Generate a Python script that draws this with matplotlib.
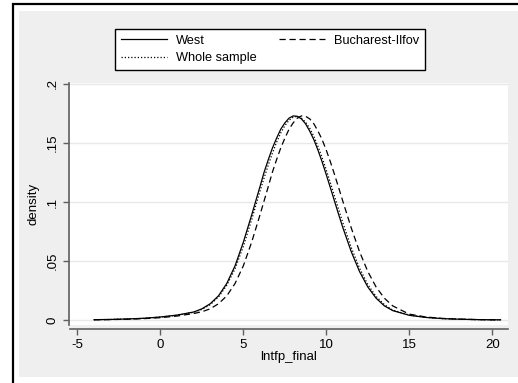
import matplotlib.pyplot as plt
from matplotlib.patches import Rectangle

plt.rcParams['font.family'] = ['Liberation Sans', 'DejaVu Sans']
plt.rcParams['axes.unicode_minus'] = False

x_vals = [-4, -3, -2, -1, 0, 1, 2, 2.5, 3, 3.5, 4, 4.5, 5, 5.5, 6, 6.25, 6.5, 6.75, 7, 7.25,
          7.5, 7.75, 8, 8.25, 8.5, 8.75, 9, 9.25, 9.5, 9.75, 10, 10.25, 10.5, 10.75, 11, 11.5,
          12, 12.5, 13, 13.5, 14, 15, 16, 17, 18, 19, 20, 20.5]

# kernel densities
west = [.0003, .0005, .0009, .0015, .0026, .0042, .0068, .0095, .0138, .0205, .0310, .0460,
        .0660, .0890, .1130, .1253, .1358, .1457, .1540, .1616, .1670, .1710, .1729, .1726,
        .1704, .1662, .1600, .1527, .1438, .1338, .1230, .1118, .1004, .0891, .0781, .0580,
        .0411, .0280, .0185, .0120, .0080, .0040, .0022, .0012, .0007, .0004, .0002, .0002]
bucharest = [.0002, .0004, .0007, .0012, .0020, .0034, .0055, .0070, .0095, .0138, .0205, .0310,
             .0460, .0660, .0890, .1010, .1130, .1253, .1358, .1457, .1540, .1616, .1670, .1710,
             .1729, .1726, .1704, .1662, .1600, .1527, .1438, .1338, .1230, .1118, .1004, .0781,
             .0580, .0411, .0280, .0185, .0120, .0050, .0026, .0014, .0008, .0004, .0002, .0002]
whole = [.0003, .0005, .0009, .0014, .0025, .0040, .0065, .0090, .0130, .0195, .0295, .0435,
         .0625, .0850, .1092, .1204, .1313, .1414, .1506, .1584, .1647, .1692, .1718, .1725,
         .1710, .1676, .1624, .1555, .1470, .1375, .1270, .1160, .1046, .0933, .0822, .0615,
         .0440, .0300, .0200, .0130, .0085, .0042, .0023, .0012, .0007, .0004, .0002, .0002]

x_ticks = [-5, 0, 5, 10, 15, 20]
y_ticks = [0, .05, .1, .15, .2]
y_ticklabels = ['0', '.05', '.1', '.15', '.2']

W, H = 518, 383
fig = plt.figure(figsize=(W / 100, H / 100), dpi=100)
fig.patch.set_facecolor('white')

# outer frame and graph region
fig.patches.append(Rectangle((12.5 / W, -0.1), 2, 1.1 - 3.8 / H, transform=fig.transFigure,
                             fill=False, edgecolor='black', linewidth=1.6, zorder=-2))
fig.patches.append(Rectangle((19 / W, 1 - 377 / H), 1, (377 - 11) / H, transform=fig.transFigure,
                             facecolor='#efefef', edgecolor='none', zorder=-1))

ax = fig.add_axes([70 / W, 1 - 325 / H, (508 - 70) / W, (325 - 83) / H])
ax.set_zorder(1)
ax.set_facecolor('white')

p1, = ax.plot(x_vals, west, color='black', lw=0.9, label='West')
p2, = ax.plot(x_vals, bucharest, color='black', lw=0.9, linestyle=(0, (5, 3)), label='Bucharest-Ilfov')
p3, = ax.plot(x_vals, whole, color='black', lw=0.9, linestyle=(0, (1, 1.6)), label='Whole sample')

ax.set_xlim(-5.45, 20.95)
ax.set_ylim(-0.0042, 0.2008)
ax.set_xticks(x_ticks)
ax.set_yticks(y_ticks)
ax.set_yticklabels(y_ticklabels)
ax.grid(axis='y', color='#e8e8e8', lw=1)
ax.set_axisbelow(True)

for s in ['top', 'right']:
    ax.spines[s].set_visible(False)
ax.spines['bottom'].set_position(('outward', 3))
ax.spines['left'].set_position(('outward', 1))
for s in ['bottom', 'left']:
    ax.spines[s].set_color('#606060')
    ax.spines[s].set_linewidth(1.2)
ax.tick_params(direction='out', length=4, width=1, color='#606060', labelsize=9.5, pad=3)
ax.tick_params(axis='y', labelrotation=90)
for lab in ax.get_yticklabels():
    lab.set_va('center')

ax.set_xlabel('lntfp_final', fontsize=9.5, labelpad=0)
ax.set_ylabel('density', fontsize=9.5)
ax.yaxis.set_label_coords((39 - 70) / 438, 0.5)

leg = fig.legend(handles=[p1, p3, p2], ncol=2, loc='lower left', mode='expand',
                 bbox_to_anchor=(115 / W, 1 - 70 / H, (425 - 115) / W, 41 / H),
                 fontsize=9.2, frameon=True, fancybox=False, edgecolor='black',
                 facecolor='white', framealpha=1,
                 handlelength=3.6, handletextpad=0.75, borderpad=0.45, labelspacing=0.45,
                 borderaxespad=0)
leg.get_frame().set_linewidth(1)
leg.set_zorder(2)

plt.savefig('out.png', dpi=100)
